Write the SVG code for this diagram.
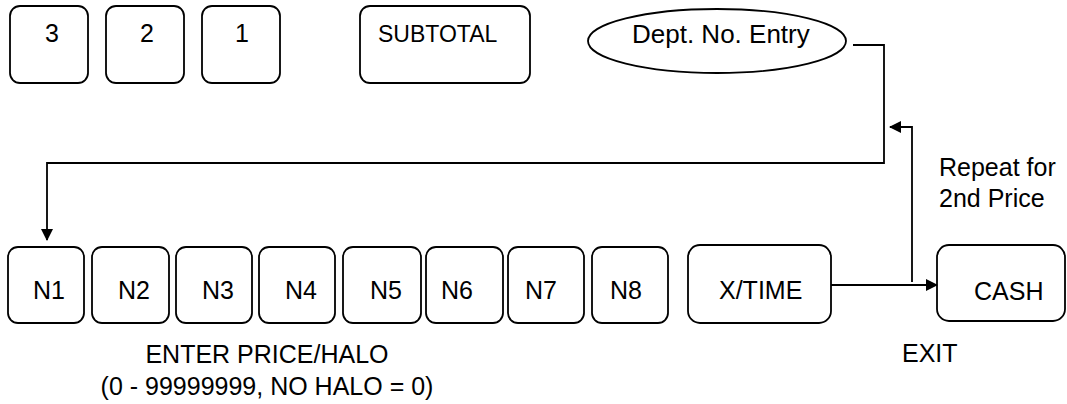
<svg xmlns="http://www.w3.org/2000/svg" width="1067" height="404" viewBox="0 0 1067 404">
<style>
.k{fill:#fff;stroke:#000;stroke-width:1.8}
.t{font-family:"Liberation Sans",Arial,sans-serif;font-size:25px;fill:#000}
.c{fill:none;stroke:#000;stroke-width:1.8}
</style>
<defs>
<marker id="ah" markerWidth="12" markerHeight="12" refX="11" refY="6" orient="auto" markerUnits="userSpaceOnUse">
<path d="M0,0 L12,6 L0,12 Z" fill="#000"/>
</marker>
</defs>
<rect width="1067" height="404" fill="#fff"/>
<g id="k3"><rect class="k" x="10" y="6" width="78" height="77" rx="10"/><text class="t" x="45" y="42">3</text></g>
<g id="k2"><rect class="k" x="106" y="6" width="78" height="77" rx="10"/><text class="t" x="140" y="42">2</text></g>
<g id="k1"><rect class="k" x="202" y="6" width="78" height="77" rx="10"/><text class="t" x="235" y="42">1</text></g>
<g id="subtotal"><rect class="k" x="360" y="6" width="170" height="77" rx="10"/><text class="t" x="378" y="42" style="font-size:23px">SUBTOTAL</text></g>
<g id="dept"><ellipse class="k" cx="717" cy="41" rx="129" ry="32"/><text class="t" x="632" y="43" style="font-size:26px">Dept. No. Entry</text></g>
<g id="n1"><rect class="k" x="8" y="247" width="76" height="76" rx="10"/><text class="t" x="33" y="299">N1</text></g>
<g id="n2"><rect class="k" x="92" y="247" width="77" height="76" rx="10"/><text class="t" x="118" y="299">N2</text></g>
<g id="n3"><rect class="k" x="176" y="247" width="76" height="76" rx="10"/><text class="t" x="202" y="299">N3</text></g>
<g id="n4"><rect class="k" x="259" y="247" width="76" height="76" rx="10"/><text class="t" x="285" y="299">N4</text></g>
<g id="n5"><rect class="k" x="343" y="247" width="78" height="76" rx="10"/><text class="t" x="370" y="299">N5</text></g>
<g id="n6"><rect class="k" x="426" y="247" width="77" height="76" rx="10"/><text class="t" x="441" y="299">N6</text></g>
<g id="n7"><rect class="k" x="508" y="247" width="76" height="76" rx="10"/><text class="t" x="525" y="299">N7</text></g>
<g id="n8"><rect class="k" x="592" y="247" width="76" height="76" rx="10"/><text class="t" x="610" y="299">N8</text></g>
<g id="xtime"><rect class="k" x="688" y="245" width="143" height="78" rx="12"/><text class="t" x="719" y="299">X/TIME</text></g>
<g id="cash"><rect class="k" x="937" y="245" width="128" height="76" rx="12"/><text class="t" x="974" y="300">CASH</text></g>
<g id="connectors">
<path class="c" d="M853,45 H884 V163 H47 V240" marker-end="url(#ah)"/>
<path class="c" d="M912,282 V127 H890" marker-end="url(#ah)"/>
<path class="c" d="M831,285 H937" marker-end="url(#ah)"/>
</g>
<g id="labels">
<text class="t" x="267" y="363" text-anchor="middle">ENTER PRICE/HALO</text>
<text class="t" x="267" y="395" text-anchor="middle">(0 - 99999999, NO HALO = 0)</text>
<text class="t" x="902" y="362">EXIT</text>
<text class="t" x="939" y="176">Repeat for</text>
<text class="t" x="939" y="207">2nd Price</text>
</g>
</svg>
